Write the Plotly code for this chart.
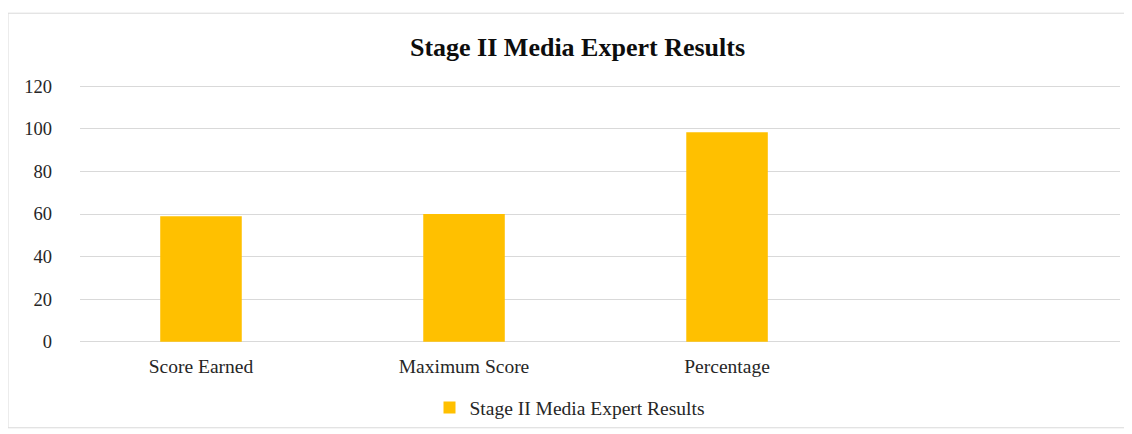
import plotly.graph_objects as go

categories = ["Score Earned", "Maximum Score", "Percentage"]
values = [59, 60, 98.33]
series_name = "Stage II Media Expert Results"
y_ticks = [0, 20, 40, 60, 80, 100, 120]

# page body has an 8px margin; work in shifted pixel coordinates
OFF = 8
PXU = 256 / 120.0          # pixels per y unit in the reference
EXT = 1.0                  # extend y range so edge gridlines are drawn
W, H = 1132 - OFF, 434 - OFF
L, R = 80 - OFF, 12
T = 86 - OFF - EXT * PXU
B = H - (342 - OFF) - EXT * PXU
pw, ph = W - L - R, H - T - B

def px_x(p):
    return (p - OFF - L) / pw

def px_y(p):
    return (H - B - (p - OFF)) / ph

fig = go.Figure()
fig.add_trace(go.Bar(
    x=[0, 1, 2], y=values, name=series_name,
    marker=dict(color="#FFC000", line=dict(width=0)),
    width=0.31, showlegend=True,
))

fig.update_layout(
    width=W, height=H,
    margin=dict(l=L, r=R, t=T, b=B, autoexpand=False),
    paper_bgcolor="white", plot_bgcolor="white",
    font=dict(family="Liberation Serif, Times New Roman, serif", color="#262626", size=18),
    title=dict(text="<b>Stage II Media Expert Results</b>", x=(577.5 - OFF) / W, xanchor="center",
               y=1 - (47 - OFF) / H, yanchor="middle",
               font=dict(size=26, color="#0d0d0d", family="Liberation Serif, serif")),
    xaxis=dict(range=[-0.46, 3.494], tickmode="array", tickvals=[0, 1, 2], ticktext=categories,
               showgrid=False, zeroline=False, showline=False, ticks="", fixedrange=True,
               ticklabelstandoff=8,
               tickfont=dict(size=19.5, color="#262626")),
    yaxis=dict(range=[-EXT, 120 + EXT], tickmode="array", tickvals=y_ticks,
               showgrid=True, gridcolor="#d9d9d9", gridwidth=1, zeroline=False,
               showline=False, ticks="", ticklabelstandoff=27,
               tickfont=dict(size=18.5, color="#262626")),
    legend=dict(orientation="h", x=px_x(570), xanchor="center", y=px_y(408), yanchor="middle",
                font=dict(size=19.5, color="#262626"), bgcolor="rgba(0,0,0,0)"),
    shapes=[dict(type="rect", xref="paper", yref="paper",
                 x0=px_x(8), x1=px_x(1125), y0=px_y(428), y1=px_y(13),
                 line=dict(color="#d9d9d9", width=1), fillcolor="rgba(0,0,0,0)", layer="below")],
)

fig.write_html("out.html")
